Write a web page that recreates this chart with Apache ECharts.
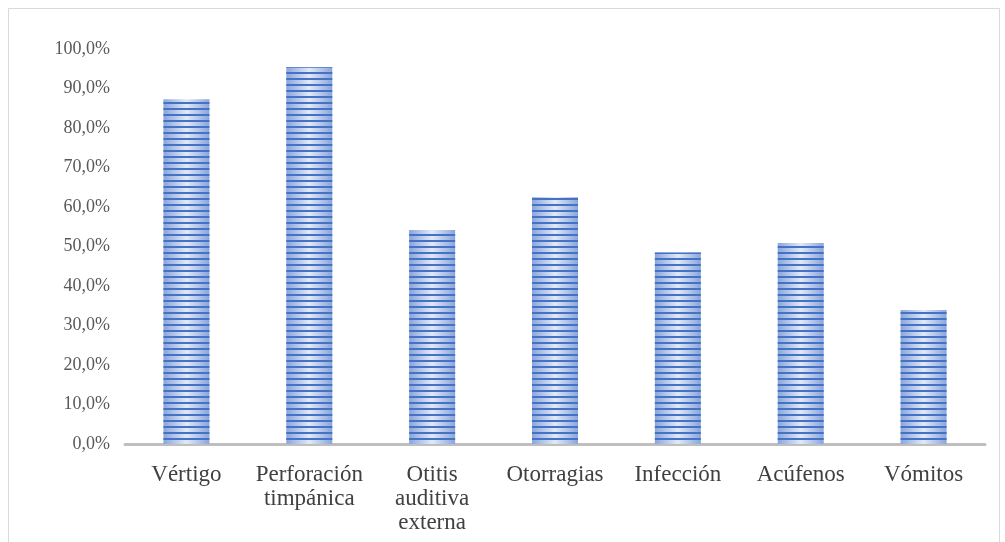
<!DOCTYPE html>
<html>
<head>
<meta charset="utf-8">
<script src="https://cdn.jsdelivr.net/npm/echarts@6/dist/echarts.min.js"></script>
<style>html,body{margin:0;padding:0;background:#fff}#c{width:1005px;height:542px}</style>
</head>
<body>
<div id="c"></div>
<script>
const categories = ['Vértigo', 'Perforación\ntimpánica', 'Otitis\nauditiva\nexterna', 'Otorragias', 'Infección', 'Acúfenos', 'Vómitos'];
const values = [87.3, 95.4, 54.2, 62.5, 48.5, 50.9, 33.9];
const yTicks = { min: 0, max: 100, interval: 10 };

const chart = echarts.init(document.getElementById('c'));
chart.setOption({
  animation: false,
  backgroundColor: '#fff',
  graphic: [{
    type: 'rect', shape: { x: 8.5, y: 8.5, width: 991, height: 560 },
    style: { fill: 'none', stroke: '#d9d9d9', lineWidth: 1 }, silent: true
  }],
  grid: { left: 125, right: 20, top: 49, bottom: 98 },
  xAxis: {
    type: 'category', data: categories,
    axisLine: { lineStyle: { color: '#bfbfbf', width: 3 } },
    axisTick: { show: false },
    axisLabel: { color: '#404040', fontFamily: 'Liberation Serif', fontSize: 23, lineHeight: 24, margin: 18.5, interval: 0 }
  },
  yAxis: {
    type: 'value', min: yTicks.min, max: yTicks.max, interval: yTicks.interval,
    axisLine: { show: false }, axisTick: { show: false }, splitLine: { show: false },
    axisLabel: { color: '#595959', fontFamily: 'Liberation Serif', fontSize: 18, margin: 15,
      formatter: v => v.toFixed(1).replace('.', ',') + '%' }
  },
  series: [{
    type: 'bar', data: values, barWidth: 46,
    itemStyle: {
      color: new echarts.graphic.LinearGradient(0, 0, 1, 0, [
        { offset: 0, color: '#8aa5dc' },
        { offset: 0.5, color: '#e2e9f7' },
        { offset: 1, color: '#8aa5dc' }
      ]),
      decal: { symbol: 'rect', symbolSize: 1, dashArrayX: [1, 0], dashArrayY: [2, 3.4], rotation: 0, color: '#4472c4' }
    }
  }]
});
</script>
</body>
</html>
